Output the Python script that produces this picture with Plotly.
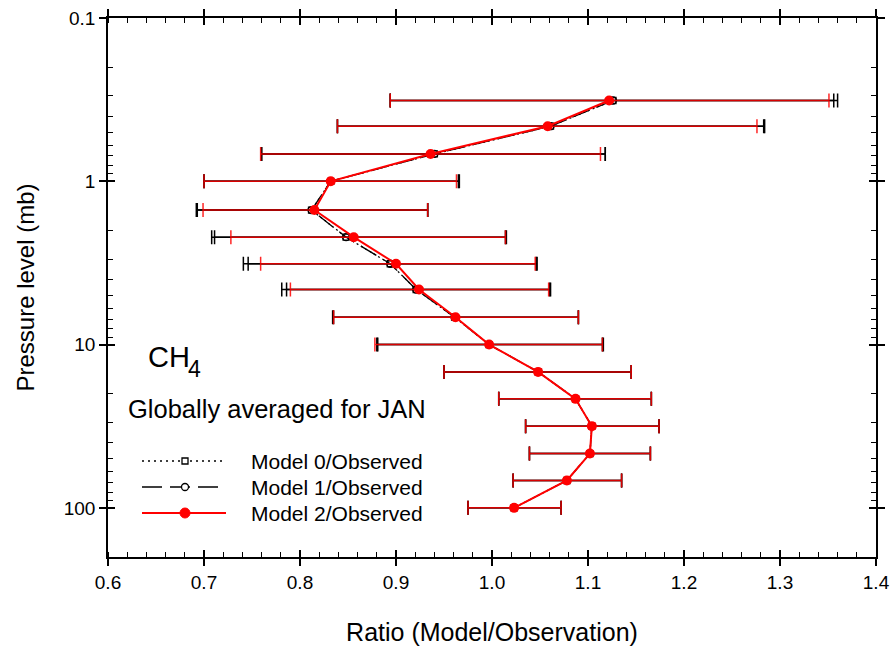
import plotly.graph_objects as go

# ---------------- data ----------------
pressure = [0.32, 0.46, 0.68, 1.0, 1.5, 2.2, 3.2, 4.6, 6.8, 10.0, 14.7, 21.5, 31.6, 46.5, 68.0, 100.0]

m0_ratio = [1.126, 1.061, 0.940, 0.832, 0.812, 0.848, 0.894, 0.921, 0.961, 0.997, 1.048, 1.087, 1.104, 1.102, 1.078, 1.023]
m0_low   = [0.894, 0.839, 0.760, 0.700, 0.692, 0.708, 0.741, 0.781, 0.834, 0.881, 0.950, 1.007, 1.035, 1.039, 1.022, 0.975]
m0_high  = [1.360, 1.284, 1.118, 0.966, 0.933, 1.015, 1.047, 1.061, 1.090, 1.116, 1.145, 1.166, 1.174, 1.165, 1.135, 1.072]

m1_ratio = [1.126, 1.061, 0.940, 0.832, 0.812, 0.848, 0.894, 0.921, 0.961, 0.997, 1.048, 1.087, 1.104, 1.102, 1.078, 1.023]
m1_low   = [0.894, 0.839, 0.760, 0.700, 0.693, 0.711, 0.746, 0.786, 0.835, 0.880, 0.950, 1.007, 1.035, 1.039, 1.022, 0.975]
m1_high  = [1.356, 1.283, 1.118, 0.965, 0.933, 1.014, 1.046, 1.060, 1.090, 1.115, 1.145, 1.166, 1.174, 1.165, 1.135, 1.072]

m2_ratio = [1.122, 1.058, 0.936, 0.832, 0.815, 0.856, 0.900, 0.924, 0.962, 0.997, 1.048, 1.087, 1.104, 1.102, 1.078, 1.023]
m2_low   = [0.894, 0.839, 0.759, 0.700, 0.699, 0.728, 0.759, 0.790, 0.835, 0.878, 0.950, 1.007, 1.035, 1.039, 1.022, 0.975]
m2_high  = [1.351, 1.276, 1.113, 0.963, 0.933, 1.014, 1.045, 1.059, 1.090, 1.115, 1.145, 1.166, 1.174, 1.165, 1.135, 1.072]

x_ticks = [0.6, 0.7, 0.8, 0.9, 1.0, 1.1, 1.2, 1.3, 1.4]
y_ticks = [0.1, 1, 10, 100]
y_ticktext = ["0.1", "1", "10", "100"]
y_minor = [0.2, 0.3, 0.4, 0.5, 0.6, 0.7, 0.8, 0.9,
           2, 3, 4, 5, 6, 7, 8, 9,
           20, 30, 40, 50, 60, 70, 80, 90, 200]

series_names = ["Model 0/Observed", "Model 1/Observed", "Model 2/Observed"]

FONT = "Liberation Sans, Arial, sans-serif"


def err(c, lo, hi):
    return [h - v for v, h in zip(c, hi)], [v - l for v, l in zip(c, lo)]


fig = go.Figure()

# Model 0
p, m = err(m0_ratio, m0_low, m0_high)
fig.add_trace(go.Scatter(
    x=m0_ratio, y=pressure, mode="lines+markers", name=series_names[0],
    line=dict(color="black", width=1.3, dash="2px,3px"),
    marker=dict(symbol="square-open", size=6, color="black", line=dict(width=1.3)),
    error_x=dict(type="data", symmetric=False, array=p, arrayminus=m,
                 color="black", thickness=1.5, width=7),
    showlegend=False))

# Model 1
p, m = err(m1_ratio, m1_low, m1_high)
fig.add_trace(go.Scatter(
    x=m1_ratio, y=pressure, mode="lines+markers", name=series_names[1],
    line=dict(color="black", width=1.3, dash="18px,8px"),
    marker=dict(symbol="circle-open", size=7, color="black", line=dict(width=1.3)),
    error_x=dict(type="data", symmetric=False, array=p, arrayminus=m,
                 color="black", thickness=1.5, width=7),
    showlegend=False))

# Model 2
p, m = err(m2_ratio, m2_low, m2_high)
fig.add_trace(go.Scatter(
    x=m2_ratio, y=pressure, mode="lines+markers", name=series_names[2],
    line=dict(color="#ff0000", width=2),
    marker=dict(symbol="circle", size=10, color="#ff0000"),
    error_x=dict(type="data", symmetric=False, array=p, arrayminus=m,
                 color="rgba(255,0,0,0.85)", thickness=1.5, width=7),
    showlegend=False))

# helper invisible trace for overlay axes (inside halves of major ticks)
fig.add_trace(go.Scatter(x=[1.0], y=[1.0], xaxis="x2", yaxis="y2", mode="markers",
                         marker=dict(opacity=0), hoverinfo="skip", showlegend=False))

axis_common = dict(showline=True, linecolor="black", linewidth=1.5, showgrid=False,
                   zeroline=False, mirror="allticks", tickcolor="black", automargin=False,
                   ticklabeloverflow="allow")

fig.update_layout(
    width=892, height=650,
    margin=dict(l=108, r=16, t=18, b=93, autoexpand=False),
    paper_bgcolor="white", plot_bgcolor="white",
    font=dict(family=FONT, color="black"),
    xaxis=dict(range=[0.6, 1.4], tickvals=x_ticks, tickformat=".1f",
               ticks="outside", ticklen=7, tickwidth=1.5,
               minor=dict(dtick=0.02, tick0=0.6, ticks="inside", ticklen=5, tickwidth=1, tickcolor="black"),
               tickfont=dict(size=19),
               title=dict(text="Ratio (Model/Observation)", font=dict(size=25), standoff=32),
               **axis_common),
    yaxis=dict(type="log", range=[2.30103, -1], tickvals=y_ticks, ticktext=y_ticktext,
               ticks="outside", ticklen=7, tickwidth=1.5,
               minor=dict(tickvals=y_minor, ticks="inside", ticklen=5, tickwidth=1, tickcolor="black"),
               tickfont=dict(size=19),
               title=dict(text="Pressure level (mb)", font=dict(size=24), standoff=22),
               **axis_common),
    xaxis2=dict(range=[0.6, 1.4], overlaying="x", anchor="y2", side="bottom",
                tickvals=x_ticks, ticks="inside", ticklen=7, tickwidth=1.5,
                showticklabels=False, showline=False, showgrid=False, zeroline=False,
                mirror="allticks", tickcolor="black", automargin=False),
    yaxis2=dict(type="log", range=[2.30103, -1], overlaying="y", anchor="x2", side="left",
                tickvals=y_ticks, ticks="inside", ticklen=7, tickwidth=1.5,
                showticklabels=False, showline=False, showgrid=False, zeroline=False,
                mirror="allticks", tickcolor="black", automargin=False),
)

# ---------- text annotations (positions given in pixels of the plot area) ----------
L, T, W, H = 108, 18, 768, 539


def px(xp):
    return (xp - L) / W


def py(yp):
    return 1 - (yp - T) / H


fig.add_annotation(x=px(146), y=py(357), xref="paper", yref="paper",
                   text="CH", showarrow=False, xanchor="left", yanchor="middle",
                   font=dict(size=29, family=FONT, color="black"))
fig.add_annotation(x=px(186), y=py(369), xref="paper", yref="paper",
                   text="4", showarrow=False, xanchor="left", yanchor="middle",
                   font=dict(size=23, family=FONT, color="black"))
fig.add_annotation(x=px(126), y=py(409), xref="paper", yref="paper",
                   text="Globally averaged for JAN", showarrow=False, xanchor="left", yanchor="middle",
                   font=dict(size=25.5, family=FONT, color="black"))

# ---------- manual legend ----------
rows = [461, 487, 513]
styles = [
    dict(color="black", width=1.3, dash="2px,4px"),
    dict(color="black", width=1.5, dash="20px,8px"),
    dict(color="#ff0000", width=2, dash="solid"),
]
for name, yrow, st in zip(series_names, rows, styles):
    fig.add_shape(type="line", xref="paper", yref="paper",
                  x0=px(142), x1=px(226), y0=py(yrow), y1=py(yrow),
                  line=st)
    fig.add_annotation(x=px(249), y=py(yrow), xref="paper", yref="paper",
                       text=name, showarrow=False, xanchor="left", yanchor="middle",
                       font=dict(size=21, family=FONT, color="black"))

# legend markers
cx = 185
fig.add_shape(type="rect", xref="paper", yref="paper",
              x0=px(cx - 3), x1=px(cx + 3), y0=py(rows[0] - 3), y1=py(rows[0] + 3),
              line=dict(color="black", width=1.3), fillcolor="white")
fig.add_shape(type="circle", xref="paper", yref="paper",
              x0=px(cx - 3.5), x1=px(cx + 3.5), y0=py(rows[1] - 3.5), y1=py(rows[1] + 3.5),
              line=dict(color="black", width=1.3), fillcolor="white")
fig.add_shape(type="circle", xref="paper", yref="paper",
              x0=px(cx - 5), x1=px(cx + 5), y0=py(rows[2] - 5), y1=py(rows[2] + 5),
              line=dict(color="#ff0000", width=1), fillcolor="#ff0000")

fig.write_html("out.html",
               config={"displayModeBar": False},
               post_script="document.body.style.margin='0';document.body.style.overflow='hidden';")
